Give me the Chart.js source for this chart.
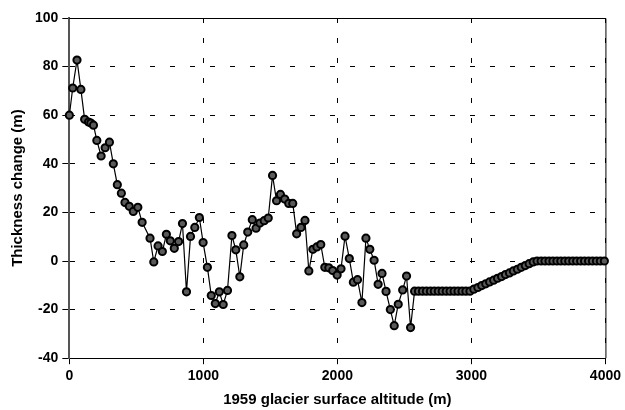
<!DOCTYPE html>
<html>
<head>
<meta charset="utf-8">
<script src="https://cdn.jsdelivr.net/npm/chart.js@4/dist/chart.umd.min.js"></script>
<style>
  html, body { margin: 0; padding: 0; background: #fff; }
  #wrap { width: 625px; height: 410px; }
</style>
</head>
<body>
<div id="wrap"><canvas id="myChart" width="625" height="410"></canvas></div>
<script>
// altitude (m)
let altitude = [
    0, 25, 57, 86, 114, 143, 160, 180, 205, 237, 267, 299, 328, 358, 388, 415, 447, 477, 511, 543,
    602, 630, 662, 694, 724, 753, 783, 815, 844, 874, 904, 936, 970, 998, 1030, 1059, 1089, 1119, 1148, 1180,
    1213, 1242, 1272, 1301, 1331, 1365, 1393, 1422, 1454, 1484, 1516, 1546, 1575, 1607, 1637, 1667, 1696, 1728, 1758, 1787,
    1817, 1847, 1876, 1906, 1936, 1965, 1998, 2027, 2057, 2089, 2119, 2150, 2183, 2213, 2242, 2274, 2304, 2333, 2363, 2395,
    2424, 2454, 2487, 2516, 2546,
    2576, 2605, 2635, 2664, 2694, 2723, 2753, 2782, 2812, 2841, 2871, 2900, 2930, 2959, 2989,
    3018, 3048, 3077, 3107, 3136, 3166, 3195, 3225, 3254, 3284, 3313, 3343, 3372, 3402, 3431, 3461,
    3490, 3520, 3549, 3579, 3608, 3638, 3667, 3697, 3726, 3756, 3785, 3815, 3844, 3874, 3903, 3933, 3962, 3992
];
// thickness change (m)
let thickness = [
    60, 71.2, 82.7, 70.6, 58.3, 57.2, 56.8, 55.9, 49.6, 43.2, 46.6, 48.9, 40.0, 31.4, 27.9, 24.1, 22.5, 20.4, 22.1, 15.9,
    9.4, -0.4, 6.2, 3.9, 11.0, 8.3, 5.2, 8.0, 15.4, -12.7, 10.1, 13.8, 17.9, 7.6, -2.6, -14.2, -17.5, -12.7, -17.9, -12.1,
    10.5, 4.6, -6.5, 6.6, 11.9, 17.0, 13.5, 15.6, 16.6, 17.7, 35.2, 24.8, 27.4, 25.5, 23.7, 23.7, 11.2, 13.8, 16.7, -4.1,
    4.8, 5.8, 6.8, -2.6, -2.8, -3.9, -5.8, -3.2, 10.2, 1.0, -8.7, -7.7, -17.1, 9.4, 4.8, 0.3, -9.6, -5.1, -12.5, -20.0,
    -26.6, -17.8, -11.9, -6.2, -27.4,
    -12.4, -12.4, -12.4, -12.4, -12.4, -12.4, -12.4, -12.4, -12.4, -12.4, -12.4, -12.4, -12.4, -12.4, -12.4,
    -11.6, -10.9, -10.1, -9.4, -8.6, -7.9, -7.1, -6.4, -5.6, -4.9, -4.1, -3.4, -2.6, -1.9, -1.1, -0.4,
    0, 0, 0, 0, 0, 0, 0, 0, 0, 0, 0, 0, 0, 0, 0, 0, 0, 0
];
let xTicks = [0, 1000, 2000, 3000, 4000];
let yTicks = [-40, -20, 0, 20, 40, 60, 80, 100];

let points = [];
for (let i = 0; i < altitude.length; i++) {
    points.push({ x: altitude[i], y: thickness[i] });
}

// frame round the plot area (top and right sides are solid in the original)
const frame = {
    id: 'frame',
    beforeDatasetsDraw(chart) {
        const a = chart.chartArea;
        const ctx = chart.ctx;
        ctx.save();
        ctx.strokeStyle = '#000';
        ctx.lineWidth = 1;
        ctx.beginPath();
        ctx.moveTo(a.left, a.top + 0.5);
        ctx.lineTo(a.right + 0.5, a.top + 0.5);
        ctx.lineTo(a.right + 0.5, a.bottom);
        ctx.stroke();
        ctx.restore();
    }
};

const font = { family: 'Arial, "Liberation Sans", sans-serif', weight: 'bold', size: 14 };

const config = {
    type: 'scatter',
    data: {
        datasets: [{
            label: 'thickness',
            data: points,
            showLine: true,
            clip: 8,
            borderColor: '#000',
            borderWidth: 1.2,
            pointRadius: 3.6,
            pointBorderWidth: 2,
            pointBackgroundColor: '#5a5a5a',
            pointBorderColor: '#000',
        }]
    },
    options: {
        responsive: false,
        animation: false,
        layout: { padding: { top: 18, right: 0, left: 9, bottom: 1 } },
        plugins: { legend: { display: false }, tooltip: { enabled: false } },
        scales: {
            x: {
                type: 'linear',
                min: 0,
                max: 4000,
                afterBuildTicks: s => { s.ticks = xTicks.map(v => ({ value: v })); },
                ticks: { color: '#000', font: font, padding: 4, maxRotation: 0, callback: v => String(v) },
                grid: { color: '#000', lineWidth: 1, tickLength: 6, tickColor: '#000' },
                border: { display: true, color: '#000', width: 1, dash: [5, 15] },
                title: { display: true, text: '1959 glacier surface altitude (m)', color: '#000',
                    font: { family: font.family, weight: 'bold', size: 15 }, padding: { top: 2, bottom: 0 } }
            },
            y: {
                min: -40,
                max: 100,
                afterBuildTicks: s => { s.ticks = yTicks.map(v => ({ value: v })); },
                ticks: { color: '#000', font: font, padding: 4, callback: v => String(v) },
                grid: { color: '#000', lineWidth: 1, tickLength: 7, tickColor: '#000' },
                border: { display: true, color: '#555', width: 2, dash: [5, 15] },
                title: { display: true, text: 'Thickness change (m)', color: '#000',
                    font: { family: font.family, weight: 'bold', size: 15 }, padding: { top: 0, bottom: 4 } }
            }
        }
    },
    plugins: [frame]
};

const myChart = new Chart(document.getElementById('myChart'), config);
</script>
</body>
</html>
